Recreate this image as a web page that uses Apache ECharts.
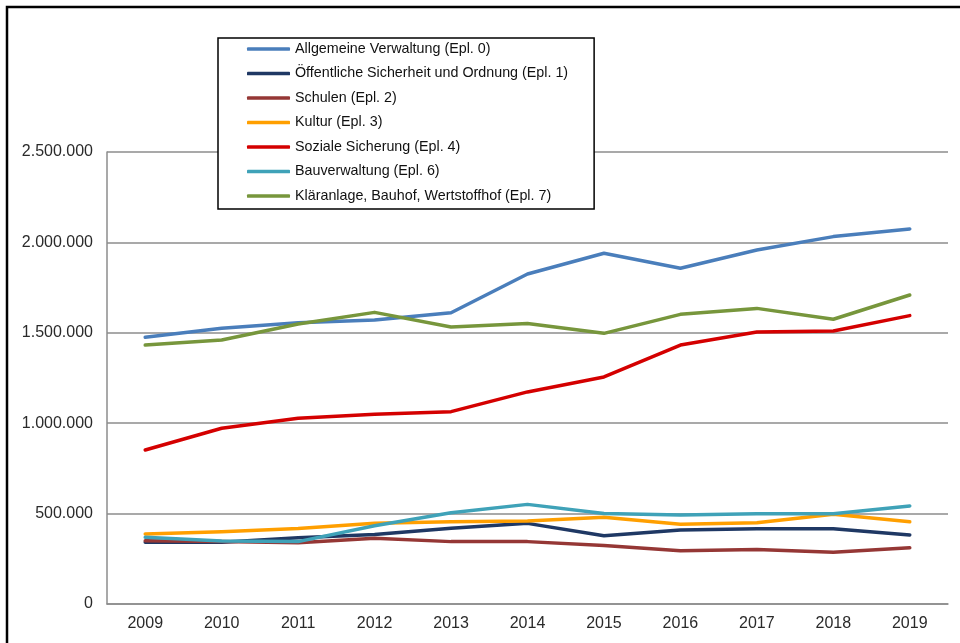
<!DOCTYPE html>
<html>
<head>
<meta charset="utf-8">
<script src="https://cdn.jsdelivr.net/npm/echarts@6/dist/echarts.min.js"></script>
<style>
html,body{margin:0;padding:0;background:#fff;}
#chart{width:960px;height:643px;}
</style>
</head>
<body>
<div id="chart"></div>
<script>
const years = ['2009','2010','2011','2012','2013','2014','2015','2016','2017','2018','2019'];
const seriesNames = [
  'Allgemeine Verwaltung (Epl. 0)',
  'Öffentliche Sicherheit und Ordnung (Epl. 1)',
  'Schulen (Epl. 2)',
  'Kultur (Epl. 3)',
  'Soziale Sicherung (Epl. 4)',
  'Bauverwaltung (Epl. 6)',
  'Kläranlage, Bauhof, Wertstoffhof (Epl. 7)'
];
const allgemeineVerwaltung = [1475000,1525000,1556000,1571000,1611000,1825000,1940000,1857000,1958000,2032000,2074000];
const oeffentlicheSicherheit = [341000,341000,367000,385000,419000,446000,378000,409000,416000,416000,382000];
const schulen = [350000,345000,339000,363000,345000,345000,323000,295000,302000,286000,311000];
const kultur = [387000,400000,417000,446000,455000,459000,480000,441000,450000,496000,455000];
const sozialeSicherung = [852000,972000,1027000,1049000,1064000,1173000,1256000,1432000,1504000,1510000,1595000];
const bauverwaltung = [369000,348000,345000,433000,505000,551000,501000,492000,499000,499000,542000];
const klaeranlage = [1432000,1460000,1549000,1613000,1532000,1552000,1497000,1602000,1635000,1575000,1709000];
const yTicks = [0,500000,1000000,1500000,2000000,2500000];

const values = [allgemeineVerwaltung, oeffentlicheSicherheit, schulen, kultur, sozialeSicherung, bauverwaltung, klaeranlage];
const colors = ['#4A7EBB','#1F3864','#953735','#FF9F00','#D40000','#3FA2B8','#77963C'];

function fmt(v){ return String(v).replace(/\B(?=(\d{3})+(?!\d))/g,'.'); }

const chart = echarts.init(document.getElementById('chart'), null, {renderer:'canvas'});
chart.setOption({
  animation:false,
  backgroundColor:'#fff',
  graphic:[{
    type:'rect', z:100, silent:true,
    shape:{x:7,y:7,width:1200,height:1200},
    style:{fill:'none',stroke:'#000',lineWidth:2.5}
  }],
  grid:{left:107, top:152, right:12, bottom:39},
  legend:{
    orient:'vertical',
    left:218, top:38,
    padding:[3,26,5,29],
    itemGap:8.5,
    itemWidth:43, itemHeight:3.5,
    icon:'roundRect',
    backgroundColor:'#fff',
    borderColor:'#000', borderWidth:1.5, borderRadius:0,
    z:10,
    textStyle:{fontFamily:'Liberation Sans, Arial, sans-serif', fontSize:14.3, color:'#111', lineHeight:16},
    data:seriesNames
  },
  xAxis:{
    type:'category', data:years, boundaryGap:true,
    axisLine:{lineStyle:{color:'#8c8c8c', width:1.5}},
    axisTick:{show:false},
    axisLabel:{fontFamily:'Liberation Sans, Arial, sans-serif', fontSize:16, color:'#2a2a2a', margin:12}
  },
  yAxis:{
    type:'value', min:yTicks[0], max:yTicks[yTicks.length-1], interval:yTicks[1]-yTicks[0],
    axisLine:{show:true, lineStyle:{color:'#8c8c8c', width:1.5}},
    axisTick:{show:false},
    splitLine:{lineStyle:{color:'#8c8c8c', width:1.5}},
    axisLabel:{fontFamily:'Liberation Sans, Arial, sans-serif', fontSize:16, color:'#2a2a2a', margin:14, formatter:fmt}
  },
  series: seriesNames.map((n,i)=>({
    name:n, type:'line', data:values[i],
    symbol:'none', smooth:false,
    lineStyle:{color:colors[i], width:3.5, cap:'round', join:'round'},
    itemStyle:{color:colors[i]}
  }))
});
</script>
</body>
</html>
